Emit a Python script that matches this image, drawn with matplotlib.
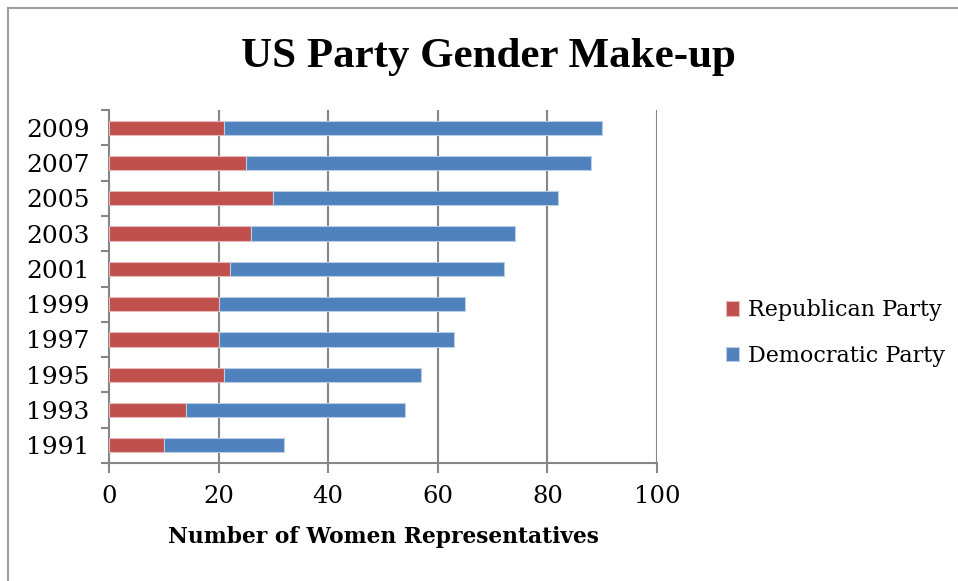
import numpy as np
import matplotlib.pyplot as plt
from matplotlib.lines import Line2D

years = ['1991', '1993', '1995', '1997', '1999', '2001', '2003', '2005', '2007', '2009']
republican = [10, 14, 21, 20, 20, 22, 26, 30, 25, 21]
democratic = [22, 40, 36, 43, 45, 50, 48, 52, 63, 69]
x_ticks = [0, 20, 40, 60, 80, 100]

red = '#C0504D'
blue = '#4F81BD'
grid_col = '#868686'

plt.rcParams['font.family'] = ['DejaVu Serif']

fig = plt.figure(figsize=(9.58, 5.81), dpi=100)
ax = fig.add_axes([109 / 958, 1 - 463 / 581, 548 / 958, 353 / 581])

y = np.arange(len(years))
ax.barh(y, republican, height=0.4, color=red, edgecolor='#E6B9B8', linewidth=0.8,
        label='Republican Party', zorder=3)
ax.barh(y, democratic, left=republican, height=0.4, color=blue, edgecolor='#B9CDE5',
        linewidth=0.8, label='Democratic Party', zorder=3)

ax.set_xlim(0, 100)
ax.set_ylim(-0.5, len(years) - 0.5)
ax.set_xticks(x_ticks)
ax.set_xticklabels([str(v) for v in x_ticks], fontsize=17.5)
ax.set_yticks(y)
ax.set_yticklabels(years, fontsize=18)
ax.set_yticks(np.arange(-0.5, len(years), 1), minor=True)
ax.tick_params(axis='y', which='major', length=0, pad=14)
ax.tick_params(axis='y', which='minor', length=6, width=1.5, color=grid_col)
ax.tick_params(axis='x', length=7, width=1.5, color=grid_col, pad=9)

ax.grid(axis='x', color=grid_col, linewidth=1.5, zorder=0)
for s in ['top', 'right']:
    ax.spines[s].set_visible(False)
for s in ['left', 'bottom']:
    ax.spines[s].set_color(grid_col)
    ax.spines[s].set_linewidth(1.5)

ax.set_xlabel('Number of Women Representatives', fontsize=15.7, fontweight='bold', labelpad=13)
fig.text(488 / 958, 1 - 57 / 581, 'US Party Gender Make-up', family='Liberation Serif',
         fontsize=31, fontweight='bold', ha='center', va='center')

handles, labels = ax.get_legend_handles_labels()
leg = fig.legend(handles, labels, loc='center left',
                 bbox_to_anchor=(710 / 958, 1 - 333 / 581), frameon=False,
                 fontsize=16, handlelength=0.6, handleheight=0.6,
                 handletextpad=0.4, labelspacing=1.05, borderpad=0.2)

fig.add_artist(Line2D([8 / 958, 8 / 958], [0, 1 - 8 / 581], color='#A0A0A0', linewidth=1.5))
fig.add_artist(Line2D([8 / 958, 1], [1 - 8 / 581, 1 - 8 / 581], color='#A0A0A0', linewidth=1.5))

fig.savefig('out.png', dpi=100)
